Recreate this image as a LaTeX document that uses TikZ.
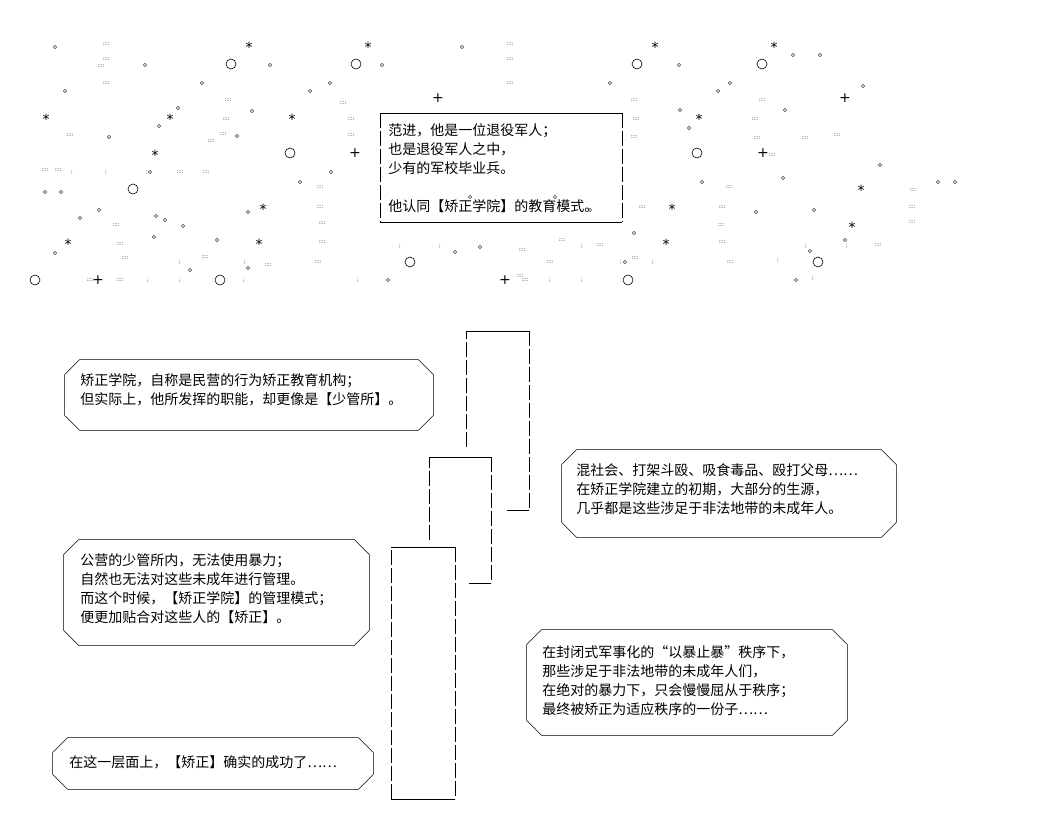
\documentclass[tikz,border=0pt]{standalone}
\usepackage{fontspec}
\newfontfamily\cjk{Noto Sans CJK SC}
\newfontfamily\dv{DejaVu Sans}
\begin{document}
\begin{tikzpicture}[x=1pt,y=-1pt,line width=0.7pt,
  txt/.style={anchor=north west,align=left,inner sep=0pt,font=\cjk\fontsize{14}{19}\selectfont},
  box/.style={rectangle,inner sep=0pt},
  side/.style={dash pattern=on 15pt off 3pt,line width=0.6pt},
  star/.style={font=\dv\fontsize{14}{14}\selectfont,inner sep=0pt},
  dots/.style={font=\dv\fontsize{5}{5}\selectfont,inner sep=0pt}]
\newcommand\octo[1]{%
  \draw[line width=0.6pt] ([xshift=15pt]#1.north west) -- ([xshift=-15pt]#1.north east)
    -- ([yshift=-15pt]#1.north east) -- ([yshift=15pt]#1.south east)
    -- ([xshift=-15pt]#1.south east) -- ([xshift=15pt]#1.south west)
    -- ([yshift=15pt]#1.south west) -- ([yshift=-15pt]#1.north west) -- cycle;}
\useasboundingbox (0,0) rectangle (1044,838);
% starfield
\foreach \x/\y in {249/47,368/47,655/47,774/47,46/119,170/119,292/119,699/119,155/155,263/209,672/209,259/244,68/244,666/244,861/190,852/227}
  \node[star] (s\x-\y) at (\x,\y) {*};
\foreach \x/\y in {438/98,845/98,355/153,98/280,763/153,505/280}
  \node[star] (p\x-\y) at (\x,\y) {+};
\foreach \x/\y in {231/64,356/64,637/64,762/64,290/153,133/189,697/153,35/280,220/280,410/262,628/280,818/262}
  \draw[line width=0.6pt] (\x,\y) circle (5);
\foreach \x/\y in {55/47,145/65,270/65,382/65,462/47,679/65,793/55,820/55,65/91,202/83,310/91,330/83,610/83,718/91,730/83,863/86,178/108,252/111,680/110,785/110,159/126,109/137,237/136,689/128,783/178,61/192,150/172,300/182,331/172,702/182,880/165,99/210,248/212,756/212,814/210,938/182,80/218,156/216,183/226,154/237,217/240,480/247,634/233,810/251,55/253,248/268,455/252,625/262,190/270,388/280,796/280,45/192,470/197,555/197,590/210,955/182,845/240,165/220}
  \draw[line width=0.4pt] (\x,\y) circle (1.6);
\foreach \x/\y in {106/44,106/59,106/83,101/66,228/100,226/119,223/134,211/141,343/103,351/119,351/135,320/187,320/207,322/223,322/242,318/262,120/244,125/258,116/225,70/135,45/170,510/44,510/59,510/83,634/100,636/119,634/137,762/100,755/119,757/138,729/187,722/207,721/225,722/242,730/262,913/190,912/207,912/222,878/245,805/138,772/155,837/135,642/207,635/258,562/240,550/262,180/172,206/172,268/265,205/257,58/170,522/250,520/276,525/280,90/280,120/280,600/245}
  \node[dots] (d\x-\y) at (\x,\y) {::::};
\foreach \x/\y in {72/172,106/172,147/172,400/246,440/246,582/246,806/246,847/246,180/262,245/262,621/262,653/262,148/280,180/280,244/280,358/280,582/280,550/280,778/260,813/278}
  \node[dots] (c\x-\y) at (\x,\y) {;};
% top box
\node[txt] (t1) at (388,123) {范进，他是一位退役军人；\\也是退役军人之中，\\少有的军校毕业兵。\\\\他认同【矫正学院】的教育模式。};
\coordinate (ta) at (380,113); \coordinate (tb) at (622,113);
\coordinate (tc) at (622,222); \coordinate (td) at (380,222);
\draw (ta) -- (tb); \draw (td) -- (tc);
\draw[side] (ta) -- (td); \draw[side] (tb) -- (tc);
% stacked frames
\coordinate (r1a) at (466,447); \coordinate (r1b) at (466,331); \coordinate (r1c) at (529,331); \coordinate (r1d) at (529,510); \coordinate (r1e) at (507,510);
\draw (r1b) -- (r1c); \draw (r1d) -- (r1e);
\draw[side] (r1a) -- (r1b); \draw[side] (r1c) -- (r1d);
\coordinate (r2a) at (429,540); \coordinate (r2b) at (429,457); \coordinate (r2c) at (491,457); \coordinate (r2d) at (491,583); \coordinate (r2e) at (469,583);
\draw (r2b) -- (r2c); \draw (r2d) -- (r2e);
\draw[side] (r2a) -- (r2b); \draw[side] (r2c) -- (r2d);
\coordinate (r3a) at (391,799); \coordinate (r3b) at (391,547); \coordinate (r3c) at (455,547); \coordinate (r3d) at (455,799);
\draw (r3b) -- (r3c); \draw (r3a) -- (r3d);
\draw[side] (r3a) -- (r3b); \draw[side] (r3c) -- (r3d);
% octagon boxes
\node[box,minimum width=368pt,minimum height=70pt] (b1) at (249,395) {}; \octo{b1}
\node[txt] (b1t) at (80,373) {矫正学院，自称是民营的行为矫正教育机构；\\但实际上，他所发挥的职能，却更像是【少管所】。};
\node[box,minimum width=334pt,minimum height=87pt] (b2) at (729,493.5) {}; \octo{b2}
\node[txt] (b2t) at (576,463) {混社会、打架斗殴、吸食毒品、殴打父母……\\在矫正学院建立的初期，大部分的生源，\\几乎都是这些涉足于非法地带的未成年人。};
\node[box,minimum width=305pt,minimum height=105pt] (b3) at (216.5,592.5) {}; \octo{b3}
\node[txt] (b3t) at (80,553) {公营的少管所内，无法使用暴力；\\自然也无法对这些未成年进行管理。\\而这个时候，【矫正学院】的管理模式；\\便更加贴合对这些人的【矫正】。};
\node[box,minimum width=320pt,minimum height=105pt] (b4) at (687,682.5) {}; \octo{b4}
\node[txt] (b4t) at (542,645) {在封闭式军事化的“以暴止暴”秩序下，\\那些涉足于非法地带的未成年人们，\\在绝对的暴力下，只会慢慢屈从于秩序；\\最终被矫正为适应秩序的一份子……};
\node[box,minimum width=320pt,minimum height=51pt] (b5) at (213,763.5) {}; \octo{b5}
\node[txt] (b5t) at (69,755) {在这一层面上，【矫正】确实的成功了……};
\end{tikzpicture}
\end{document}
